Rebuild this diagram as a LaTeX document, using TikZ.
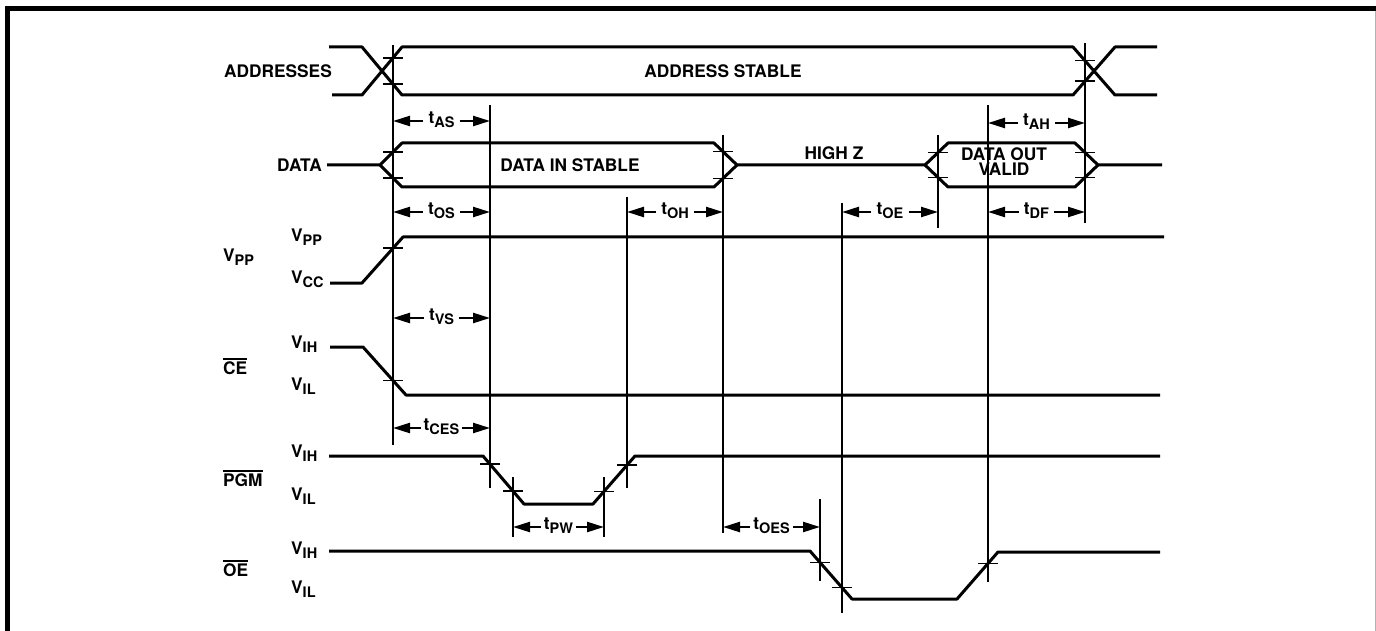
\documentclass[tikz,border=0pt]{standalone}
\usepackage{fontspec}
\setmainfont{TeX Gyre Heros}
\usetikzlibrary{arrows.meta}
\newcommand\sbs[1]{\raisebox{-0.4ex}{\fontsize{14.5}{14}\selectfont #1}}
\newcommand\ovl[1]{\vbox{\hrule height 1.8pt\kern 1.6pt\hbox{#1}}}
\begin{document}
\begin{tikzpicture}[x=1pt,y=-1pt,
  font=\fontsize{17.3}{15}\selectfont\bfseries,
  sig/.style={line width=3pt,line join=round},
  vl/.style={line width=1.6pt},
  tk/.style={line width=1.6pt},
  tarr/.style={line width=2.4pt,-{Triangle[length=17pt,width=10pt]}},
  tl/.style={anchor=mid,inner xsep=5pt,inner ysep=0pt},
  lab/.style={inner sep=0pt},
  frame/.style={line width=5pt}]
\useasboundingbox (0,0) rectangle (1376,631);
% frame
\draw[frame] (7.5,631) -- (7.5,8.5) -- (1376,8.5);
\draw[gray!60,line width=1pt] (1375.5,11) -- (1375.5,631);

% vertical reference lines
\coordinate (vA) at (393,0);
\coordinate (vB) at (490,0);
\coordinate (vC) at (513,0);
\coordinate (vD) at (604,0);
\coordinate (vE) at (627,0);
\coordinate (vF) at (723,0);
\coordinate (vG) at (820,0);
\coordinate (vH) at (842,0);
\coordinate (vI) at (938,0);
\coordinate (vJ) at (988,0);
\coordinate (vK) at (1085,0);
\draw[vl] (393,45) -- (393,445);
\draw[vl] (490,105) -- (490,488);
\draw[vl] (513,477) -- (513,537);
\draw[vl] (604,477) -- (604,537);
\draw[vl] (627,197) -- (627,488);
\draw[vl] (723,135) -- (723,533);
\draw[vl] (820,499) -- (820,581);
\draw[vl] (842,203) -- (842,613);
\draw[vl] (938,135) -- (938,228);
\draw[vl] (988,105) -- (988,582);
\draw[vl] (1085,43) -- (1085,223);

% ADDRESSES
\draw[sig] (329,47) -- (362,47) -- (402,95) -- (1073,95) -- (1115,47) -- (1157,47);
\draw[sig] (332,95) -- (362,95) -- (402,47) -- (1073,47) -- (1115,95) -- (1157,95);
% DATA
\draw[sig] (327,165) -- (380,165) -- (402,143) -- (714,143) -- (737,165) -- (925,165) -- (948,143) -- (1075,143) -- (1098,165) -- (1162,165);
\draw[sig] (380,165) -- (402,187) -- (714,187) -- (737,165);
\draw[sig] (925,165) -- (948,187) -- (1075,187) -- (1098,165);
% VPP
\draw[sig] (330,283) -- (362,283) -- (403,237) -- (1164,237);
% CE
\draw[sig] (330,347) -- (363,347) -- (406,395) -- (1160,395);
% PGM
\draw[sig] (329,456) -- (483,456) -- (524,504) -- (593,504) -- (635,456) -- (1160,456);
% OE
\draw[sig] (329,551) -- (810,551) -- (852,599) -- (957,599) -- (998,552) -- (1160,552);

% ticks
\foreach \x/\y in {393/57.8,393/84.2,1085/60.7,1085/81.3,
  393/152,393/178,723/151.6,723/178.4,938/152.6,938/177.4,1085/152.6,1085/177.4,
  393/248.2,393/380.5,490/464.2,513/491.1,604/491.4,627/465.1,
  820/562.4,842/587.6,988/563.5}
  \draw[tk] (\x-10,\y) -- ++(20,0);

% signal texts
\node[lab] (adst) at (723,71) {ADDRESS STABLE};
\node[lab,anchor=mid east] (addr) at (332,75) {ADDRESSES};
\node[lab,anchor=mid east] (data) at (322,169) {DATA};
\node[lab] (dins) at (570,165) {DATA IN STABLE};
\node[lab] (hiz) at (834,153) {HIGH Z};
\node[lab,align=center] (dout) at (1004,162) {DATA OUT\\VALID};

% row names
\node[lab,anchor=mid west] (rVPP) at (223,259) {V\sbs{PP}};
\node[lab,anchor=mid west] (rCE) at (223,372) {\ovl{CE}};
\node[lab,anchor=mid west] (rPGM) at (223,484) {\ovl{PGM}};
\node[lab,anchor=mid west] (rOE) at (223,574) {\ovl{OE}};

% level names
\node[lab,anchor=mid west] (lvpp) at (291,239) {V\sbs{PP}};
\node[lab,anchor=mid west] (lvcc) at (291,281) {V\sbs{CC}};
\node[lab,anchor=mid west] (lceh) at (291,346) {V\sbs{IH}};
\node[lab,anchor=mid west] (lcel) at (291,388) {V\sbs{IL}};
\node[lab,anchor=mid west] (lpgh) at (291,455) {V\sbs{IH}};
\node[lab,anchor=mid west] (lpgl) at (291,498) {V\sbs{IL}};
\node[lab,anchor=mid west] (loeh) at (291,552) {V\sbs{IH}};
\node[lab,anchor=mid west] (loel) at (291,591) {V\sbs{IL}};

% timing labels
\node[tl] (tAS) at (441.5,121) {t\sbs{AS}};
\draw[tarr] (tAS.mid west) -- (tAS.mid west -| vA);
\draw[tarr] (tAS.mid east) -- (tAS.mid east -| vB);
\node[tl] (tAH) at (1036.5,123) {t\sbs{AH}};
\draw[tarr] (tAH.mid west) -- (tAH.mid west -| vJ);
\draw[tarr] (tAH.mid east) -- (tAH.mid east -| vK);
\node[tl] (tOS) at (441.5,212) {t\sbs{OS}};
\draw[tarr] (tOS.mid west) -- (tOS.mid west -| vA);
\draw[tarr] (tOS.mid east) -- (tOS.mid east -| vB);
\node[tl] (tOH) at (675,212) {t\sbs{OH}};
\draw[tarr] (tOH.mid west) -- (tOH.mid west -| vE);
\draw[tarr] (tOH.mid east) -- (tOH.mid east -| vF);
\node[tl] (tOE) at (890,212) {t\sbs{OE}};
\draw[tarr] (tOE.mid west) -- (tOE.mid west -| vH);
\draw[tarr] (tOE.mid east) -- (tOE.mid east -| vI);
\node[tl] (tDF) at (1036.5,212) {t\sbs{DF}};
\draw[tarr] (tDF.mid west) -- (tDF.mid west -| vJ);
\draw[tarr] (tDF.mid east) -- (tDF.mid east -| vK);
\node[tl] (tVS) at (441.5,318) {t\sbs{VS}};
\draw[tarr] (tVS.mid west) -- (tVS.mid west -| vA);
\draw[tarr] (tVS.mid east) -- (tVS.mid east -| vB);
\node[tl,inner xsep=3pt] (tCES) at (441.5,428) {t\sbs{CES}};
\draw[tarr] (tCES.mid west) -- (tCES.mid west -| vA);
\draw[tarr] (tCES.mid east) -- (tCES.mid east -| vB);
\node[tl,inner xsep=3pt] (tPW) at (558.5,527) {t\sbs{PW}};
\draw[tarr] (tPW.mid west) -- (tPW.mid west -| vC);
\draw[tarr] (tPW.mid east) -- (tPW.mid east -| vD);
\node[tl,inner xsep=3pt] (tOES) at (771.5,527) {t\sbs{OES}};
\draw[tarr] (tOES.mid west) -- (tOES.mid west -| vF);
\draw[tarr] (tOES.mid east) -- (tOES.mid east -| vG);
\end{tikzpicture}
\end{document}
